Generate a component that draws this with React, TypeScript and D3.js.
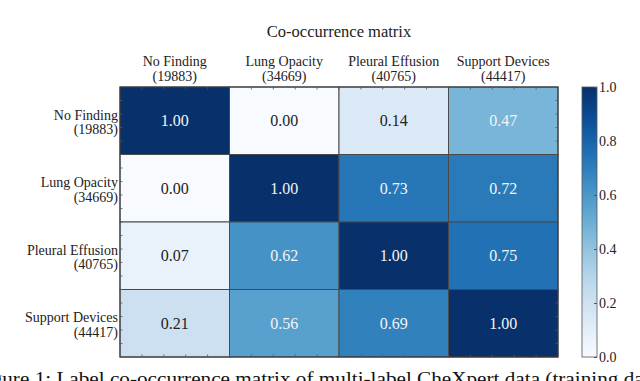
import React from "react";
import { useEffect, useRef } from "react";
import * as d3 from "d3";

const labels = ["No Finding", "Lung Opacity", "Pleural Effusion", "Support Devices"];
const counts = ["(19883)", "(34669)", "(40765)", "(44417)"];
const rowNoFinding = [1.0, 0.0, 0.14, 0.47];
const rowLungOpacity = [0.0, 1.0, 0.73, 0.72];
const rowPleuralEffusion = [0.07, 0.62, 1.0, 0.75];
const rowSupportDevices = [0.21, 0.56, 0.69, 1.0];
const colorbarTicks = [0, 0.2, 0.4, 0.6, 0.8, 1.0];
const title = "Co-occurrence matrix";
const caption = "Figure 1: Label co-occurrence matrix of multi-label CheXpert data (training data)";

const FONT = "'Liberation Serif', 'DejaVu Serif', serif";

function App() {
  const ref = useRef<SVGSVGElement>(null);
  const width = 640;
  const height = 381;

  useEffect(() => {
    drawChart();
  }, []);

  function drawChart() {
    const rows = [rowNoFinding, rowLungOpacity, rowPleuralEffusion, rowSupportDevices];
    const svg = d3.select(ref.current);
    svg.selectAll("*").remove();

    const left = 120, right = 558, top = 87, bottom = 357;
    const x = d3.scaleBand().domain(labels).range([left, right]);
    const y = d3.scaleBand().domain(labels).range([top, bottom]);
    const color = (v: number) => d3.interpolateBlues(v);

    const cells = rows.flatMap((r, i) =>
      r.map((v, j) => ({ row: labels[i], col: labels[j], value: v }))
    );

    const g = svg.append("g");
    g.selectAll("rect.cell")
      .data(cells)
      .enter()
      .append("rect")
      .attr("class", "cell")
      .attr("x", (d) => x(d.col)!)
      .attr("y", (d) => y(d.row)!)
      .attr("width", x.bandwidth())
      .attr("height", y.bandwidth())
      .attr("fill", (d) => color(d.value))
      .attr("stroke", "#4a4a4a")
      .attr("stroke-width", 1);

    g.selectAll("text.val")
      .data(cells)
      .enter()
      .append("text")
      .attr("class", "val")
      .attr("x", (d) => x(d.col)! + x.bandwidth() / 2)
      .attr("y", (d) => y(d.row)! + y.bandwidth() / 2)
      .attr("dy", "0.35em")
      .attr("text-anchor", "middle")
      .style("font-family", FONT)
      .style("font-size", "16px")
      .style("fill", (d) => (d.value > 0.3 ? "#f4f4f4" : "#222"))
      .text((d) => d.value.toFixed(2));

    // frame and minor ticks (inward)
    g.append("rect")
      .attr("x", left)
      .attr("y", top)
      .attr("width", right - left)
      .attr("height", bottom - top)
      .attr("fill", "none")
      .attr("stroke", "#333")
      .attr("stroke-width", 1);

    const ticks = g.append("g").attr("stroke", "#555").attr("stroke-width", 0.8);
    const xm = d3.scaleLinear().domain([0, 20]).range([left, right]);
    const ym = d3.scaleLinear().domain([0, 20]).range([top, bottom]);
    d3.range(1, 20).forEach((k) => {
      ticks.append("line").attr("x1", xm(k)).attr("x2", xm(k)).attr("y1", top).attr("y2", top + 2.5);
      ticks.append("line").attr("x1", xm(k)).attr("x2", xm(k)).attr("y1", bottom).attr("y2", bottom - 2.5);
      ticks.append("line").attr("y1", ym(k)).attr("y2", ym(k)).attr("x1", left).attr("x2", left + 2.5);
      ticks.append("line").attr("y1", ym(k)).attr("y2", ym(k)).attr("x1", right).attr("x2", right - 2.5);
    });

    // column labels
    labels.forEach((l, i) => {
      const cx = x(l)! + x.bandwidth() / 2;
      const t = svg
        .append("text")
        .attr("text-anchor", "middle")
        .style("font-family", FONT)
        .style("font-size", "14px")
        .style("fill", "#222");
      t.append("tspan").attr("x", cx).attr("y", 66).text(l);
      t.append("tspan").attr("x", cx).attr("y", 80.5).text(counts[i]);
    });

    // row labels
    labels.forEach((l, i) => {
      const cy = y(l)! + y.bandwidth() / 2;
      const t = svg
        .append("text")
        .attr("text-anchor", "end")
        .style("font-family", FONT)
        .style("font-size", "14px")
        .style("fill", "#222");
      t.append("tspan").attr("x", 118).attr("y", cy - 1).text(l);
      t.append("tspan").attr("x", 118).attr("y", cy + 13.5).text(counts[i]);
    });

    // title
    svg
      .append("text")
      .attr("x", (left + right) / 2)
      .attr("y", 37)
      .attr("text-anchor", "middle")
      .style("font-family", FONT)
      .style("font-size", "16.5px")
      .style("fill", "#222")
      .text(title);

    // colorbar
    const cbX = 582, cbW = 15;
    const defs = svg.append("defs");
    const grad = defs
      .append("linearGradient")
      .attr("id", "cbgrad")
      .attr("x1", "0")
      .attr("y1", "1")
      .attr("x2", "0")
      .attr("y2", "0");
    d3.range(0, 1.0001, 0.05).forEach((t) => {
      grad.append("stop").attr("offset", t).attr("stop-color", color(t));
    });
    const cy = d3.scaleLinear().domain([0, 1]).range([bottom, top]);
    svg
      .append("rect")
      .attr("x", cbX)
      .attr("y", top)
      .attr("width", cbW)
      .attr("height", bottom - top)
      .attr("fill", "url(#cbgrad)")
      .attr("stroke", "#555")
      .attr("stroke-width", 0.8);
    const cbAxis = svg
      .append("g")
      .attr("transform", `translate(${cbX + cbW},0)`)
      .call(
        d3
          .axisRight(cy)
          .tickValues(colorbarTicks)
          .tickSize(-3)
          .tickPadding(2)
          .tickFormat(d3.format(".1f"))
      );
    cbAxis.select(".domain").remove();
    cbAxis.selectAll("line").attr("stroke", "#555");
    cbAxis
      .selectAll("text")
      .attr("x", 2)
      .style("font-family", FONT)
      .style("font-size", "14px")
      .style("fill", "#222");

    // caption (cut at the window edge)
    svg
      .append("text")
      .attr("x", -26)
      .attr("y", 385)
      .attr("textLength", 692)
      .attr("lengthAdjust", "spacingAndGlyphs")
      .style("font-family", FONT)
      .style("font-size", "19px")
      .style("fill", "#111")
      .text(caption);
  }

  return (
    <svg
      ref={ref}
      width={width}
      height={height}
      style={{ position: "absolute", left: 0, top: 0, background: "white" }}
    />
  );
}

export default App;
